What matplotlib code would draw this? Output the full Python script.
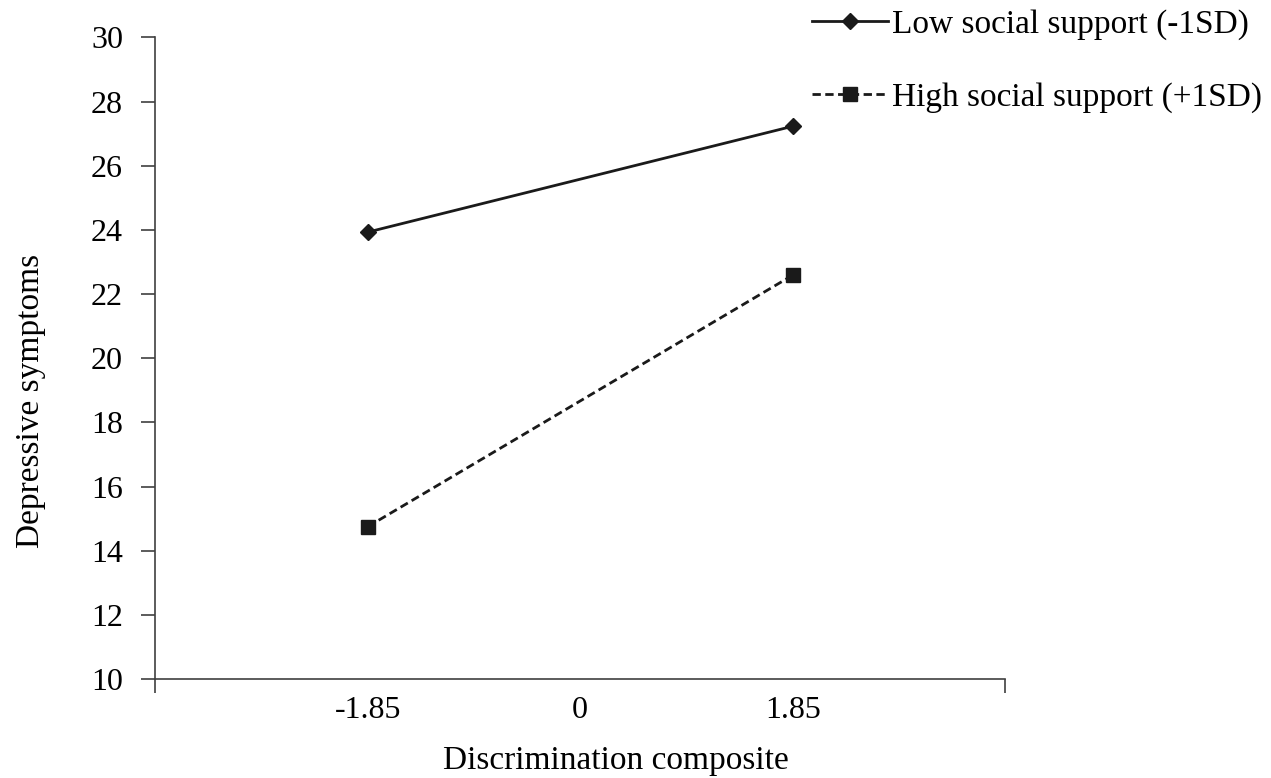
import matplotlib
matplotlib.use('Agg')
from matplotlib import pyplot as plt

x_vals = [-1.85, 1.85]
low_support = [23.93, 27.23]
high_support = [14.75, 22.59]
x_labels = ['-1.85', '0', '1.85']

plt.rcParams['font.family'] = ['Liberation Serif', 'DejaVu Serif']

fig = plt.figure(figsize=(12.71, 7.78), dpi=100)
ax = fig.add_axes([0.122, 0.127, 0.669, 0.825])

ax.plot(x_vals, low_support, color='#1a1a1a', linewidth=2, marker='D', markersize=8,
        label='Low social support (-1SD)')
ax.plot(x_vals, high_support, color='#1a1a1a', linewidth=2, linestyle=(0, (3, 1.6)),
        marker='s', markersize=10.5, label='High social support (+1SD)')

axis_col = '#404040'
ax.set_xlim(-3.7, 3.7)
ax.set_ylim(10, 30)
ax.set_yticks(range(10, 31, 2))
ax.set_xticks([-1.85, 0, 1.85])
ax.set_xticklabels(x_labels)
ax.set_xticks([-3.7, 0, 3.7], minor=True)
ax.tick_params(axis='x', which='major', length=0, pad=12, labelsize=23)
ax.tick_params(axis='x', which='minor', length=10, width=1.2, direction='out', color=axis_col)
ax.tick_params(axis='y', length=10, width=1.2, direction='out', labelsize=23, pad=13,
               color=axis_col)

for side in ['top', 'right']:
    ax.spines[side].set_visible(False)
for side in ['left', 'bottom']:
    ax.spines[side].set_linewidth(1.2)
    ax.spines[side].set_color(axis_col)

ax.set_xlabel('Discrimination composite', fontsize=24)
ax.set_ylabel('Depressive symptoms', fontsize=24)
ax.xaxis.set_label_coords(0.542, -0.103)
ax.yaxis.set_label_coords(-0.128, 0.433)

fig.legend(loc='upper left', bbox_to_anchor=(0.628, 1.005), frameon=False, fontsize=24,
           handlelength=2.3, handletextpad=0.1, labelspacing=1.25, borderaxespad=0)

fig.savefig('out.png', dpi=100)
